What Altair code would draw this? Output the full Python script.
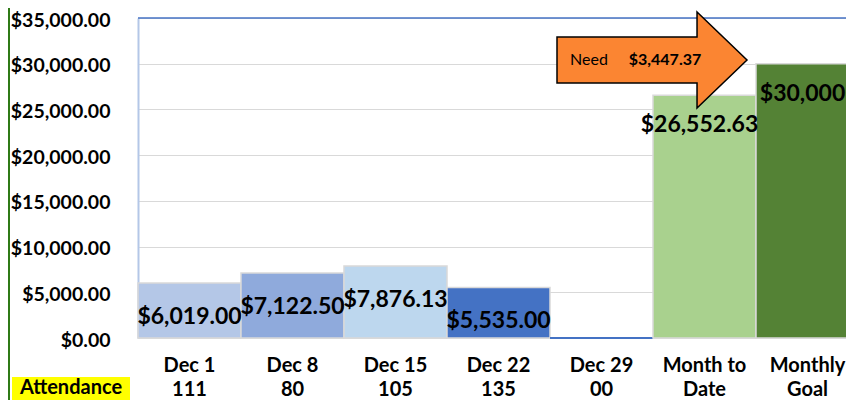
import altair as alt
import pandas as pd

categories = ["Dec 1", "Dec  8", "Dec  15", "Dec  22", "Dec  29", "Month to", "Monthly"]
second_lines = ["111", "80", "105", "135", "00", "Date", "Goal"]
values = [6019.00, 7122.50, 7876.13, 5535.00, 0.0, 26552.63, 30000.0]
value_labels = ["$6,019.00", "$7,122.50", "$7,876.13", "$5,535.00", "", "$26,552.63", "$30,000"]
label_big = [False, False, False, False, False, True, True]
bar_colors = ["#b4c7e7", "#8faadc", "#bdd7ee", "#4472c4", "#4472c4", "#a9d18e", "#548235"]
bar_strokes = ["#d9d9d9", "#d9d9d9", "#d9d9d9", "#d9d9d9", "#4472c4", "#d9d9d9", "#d9d9d9"]
bar_stroke_widths = [1.5, 1.5, 1.5, 1.5, 2, 1.5, 1.5]
need_text = "Need"
need_amount = "$3,447.37"
row_title = "Attendance"
y_max = 35000

df = pd.DataFrame({
    "key": [f"{a}|{b}" for a, b in zip(categories, second_lines)],
    "value": values,
    "label": value_labels,
    "big": label_big,
    "color": bar_colors,
    "stroke": bar_strokes,
    "sw": bar_stroke_widths,
})

FONT = "Lato"

x_enc = alt.X("key:N", sort=None, title=None,
              scale=alt.Scale(paddingInner=0, paddingOuter=0),
              axis=alt.Axis(labelExpr="split(datum.label, '|')", labelAngle=0,
                            ticks=False, domain=False, labelFontSize=20,
                            labelFontWeight="bold", labelColor="black",
                            labelPadding=17, labelLineHeight=24, labelFont=FONT))
y_enc = alt.Y("value:Q", title=None,
              scale=alt.Scale(domain=[0, y_max], nice=False),
              axis=alt.Axis(values=list(range(0, y_max + 1, 5000)), format="$,.2f",
                            ticks=False, domain=True, domainColor="#b4c7e7", domainWidth=2,
                            gridColor="#d9d9d9", gridWidth=1, labelFontSize=19.5,
                            labelFontWeight="bold", labelColor="black", labelOffset=2,
                            labelPadding=28, labelFont=FONT))

base = alt.Chart(df)

bars = base.mark_bar().encode(
    x=x_enc, y=y_enc,
    color=alt.Color("color:N", scale=None),
    stroke=alt.Stroke("stroke:N", scale=None),
    strokeWidth=alt.StrokeWidth("sw:Q", scale=None),
)

top_rule = alt.Chart(pd.DataFrame({"v": [y_max]})).mark_rule(
    color="#4472c4", strokeWidth=1.5).encode(y=alt.Y("v:Q"))

labels_small = base.transform_filter("!datum.big").mark_text(
    dy=34, fontSize=23, font=FONT, fontWeight="bold", color="black", baseline="middle").encode(
    x=alt.X("key:N", sort=None), y=alt.Y("value:Q"), text="label:N")
labels_big = base.transform_filter("datum.big").mark_text(
    dy=30, dx=-5, fontSize=23, font=FONT, fontWeight="bold", color="black", baseline="middle").encode(
    x=alt.X("key:N", sort=None), y=alt.Y("value:Q"), text="label:N")

arrow_path = "M-1,-0.242 L0.474,-0.242 L0.474,-0.505 L1,0 L0.474,0.505 L0.474,0.242 L-1,0.242 Z"
ann = pd.DataFrame({"need": [need_text], "amount": [need_amount], "title": [row_title]})
arrow = alt.Chart(ann).mark_point(
    shape=arrow_path, size=36100, filled=True, fill="#fb8532", stroke="black",
    strokeWidth=1.5, opacity=1).encode(x=alt.value(514), y=alt.value(42))
need_t = alt.Chart(ann).mark_text(fontSize=16, font=FONT, color="black").encode(
    x=alt.value(451), y=alt.value(42), text="need:N")
amount_t = alt.Chart(ann).mark_text(fontSize=16, font=FONT, fontWeight="bold", color="black").encode(
    x=alt.value(527), y=alt.value(42), text="amount:N")

att_box = alt.Chart(ann).mark_rect(color="#ffff00").encode(
    x=alt.value(-126), x2=alt.value(-8), y=alt.value(359), y2=alt.value(382))
att_text = alt.Chart(ann).mark_text(fontSize=20, font=FONT, fontWeight="bold", color="black",
                                    baseline="middle").encode(
    x=alt.value(-67), y=alt.value(370), text="title:N")
green_bar = alt.Chart(ann).mark_rect(color="#2f7a17").encode(
    x=alt.value(-130), x2=alt.value(-128), y=alt.value(-10), y2=alt.value(382))

chart = alt.layer(bars, top_rule, labels_small, labels_big, arrow, need_t, amount_t,
                  att_box, att_text, green_bar).properties(
    width=721, height=320,
    autosize=alt.AutoSizeParams(type="none"),
    padding={"left": 130, "top": 10, "right": -13, "bottom": 62},
).configure_view(stroke=None)

chart.save("out.html", embed_options={"renderer": "svg", "actions": False})
